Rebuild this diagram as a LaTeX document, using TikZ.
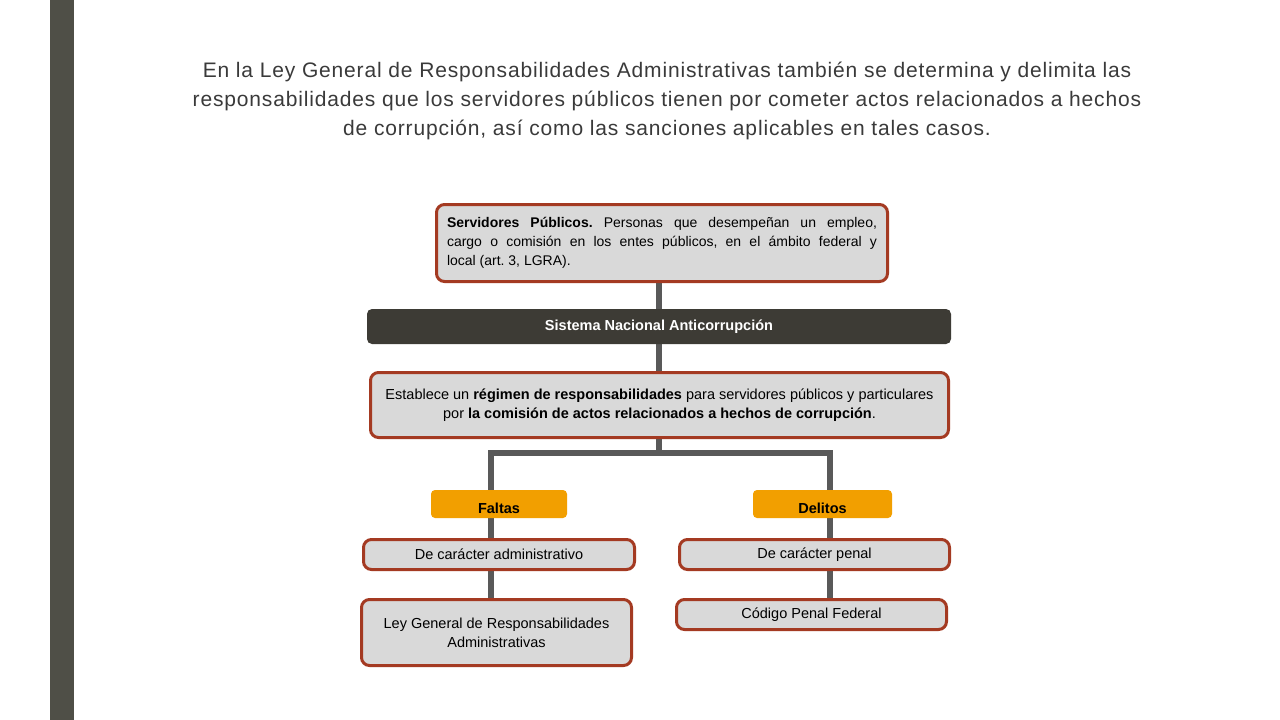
\documentclass[tikz,border=0pt]{standalone}
\usepackage{fontspec}
\setmainfont{Liberation Sans}
\newfontfamily\titulofont[LetterSpace=4]{Liberation Sans}
\usetikzlibrary{backgrounds}
\frenchspacing
\definecolor{franja}{RGB}{79,79,71}
\definecolor{borde}{RGB}{164,58,34}
\definecolor{relleno}{RGB}{217,217,217}
\definecolor{barra}{RGB}{61,59,53}
\definecolor{naranja}{RGB}{242,159,0}
\definecolor{linea}{RGB}{89,89,89}
\definecolor{titulo}{RGB}{58,58,58}

\tikzset{
  caja/.style={draw=borde, line width=3pt, fill=relleno, rounded corners=8pt,
    inner sep=0pt, font=\fontsize{14.5}{19}\selectfont},
  barrasna/.style={fill=barra, rounded corners=5pt, inner sep=0pt, text=white,
    font=\bfseries\fontsize{14.5}{16}\selectfont},
  etiqueta/.style={fill=naranja, rounded corners=4pt, inner sep=0pt},
  conector/.style={linea, line width=6pt}
}

\begin{document}
\begin{tikzpicture}[x=1pt, y=-1pt]

	\begin{scope}[on background layer]
		\fill[white] (0,0) rectangle (1280,720);
		\fill[franja] (50,0) rectangle (74,720);
	\end{scope}

	\node[titulo, align=center, font=\titulofont\fontsize{21}{29}\selectfont] (tit) at (667,101)
		{En la Ley General de Responsabilidades Administrativas también se determina y delimita las\\
		 responsabilidades que los servidores públicos tienen por cometer actos relacionados a hechos\\
		 de corrupción, así como las sanciones aplicables en tales casos.};

	\node[caja, minimum width=451, minimum height=77] (serv) at (662,243)
		{\parbox{430pt}{\fontsize{14}{19}\selectfont\textbf{Servidores Públicos.} Personas que desempeñan un empleo,\linebreak
		 cargo o comisión en los entes públicos, en el ámbito federal y\linebreak local (art. 3, LGRA).}};
	\node[barrasna, minimum width=584, minimum height=35] (sna) at (659,326.5) {Sistema Nacional Anticorrupción};
	\node[caja, minimum width=578, minimum height=65, align=center] (reg) at (659.5,405)
		{Establece un \textbf{régimen de responsabilidades} para servidores públicos y particulares\\
		 por \textbf{la comisión de actos relacionados a hechos de corrupción}.};

	\node[etiqueta, minimum width=136, minimum height=28,
		label={[font=\bfseries\fontsize{14.5}{16}\selectfont, yshift=-4pt]center:Faltas}] (faltas) at (499,504) {};
	\node[etiqueta, minimum width=139, minimum height=28,
		label={[font=\bfseries\fontsize{14.5}{16}\selectfont, yshift=-4pt]center:Delitos}] (delitos) at (822.5,504) {};

	\node[caja, minimum width=271, minimum height=30] (adm) at (499,554.5) {De carácter administrativo};
	\node[caja, minimum width=270, minimum height=30] (pen) at (814.5,554.5) {De carácter penal};
	\node[caja, minimum width=270, minimum height=66, align=center] (ley) at (496.5,632.5)
		{Ley General de Responsabilidades\\Administrativas};
	\node[caja, minimum width=270, minimum height=30] (cpf) at (811.5,614.5) {Código Penal Federal};

	\coordinate (izq) at (491,453);
	\coordinate (der) at (830,453);

	\begin{scope}[on background layer]
		\draw[conector] (sna.north) -- (sna.north |- serv.south);
		\draw[conector] (sna.south) -- (sna.south |- reg.north);
		\draw[conector] (reg.south -| sna.south) -- (sna.south |- izq);
		\draw[conector, line cap=rect] (izq) -- (der);
		\draw[conector] (izq) -- (izq |- ley.north);
		\draw[conector] (der) -- (der |- cpf.north);
	\end{scope}

\end{tikzpicture}
\end{document}
